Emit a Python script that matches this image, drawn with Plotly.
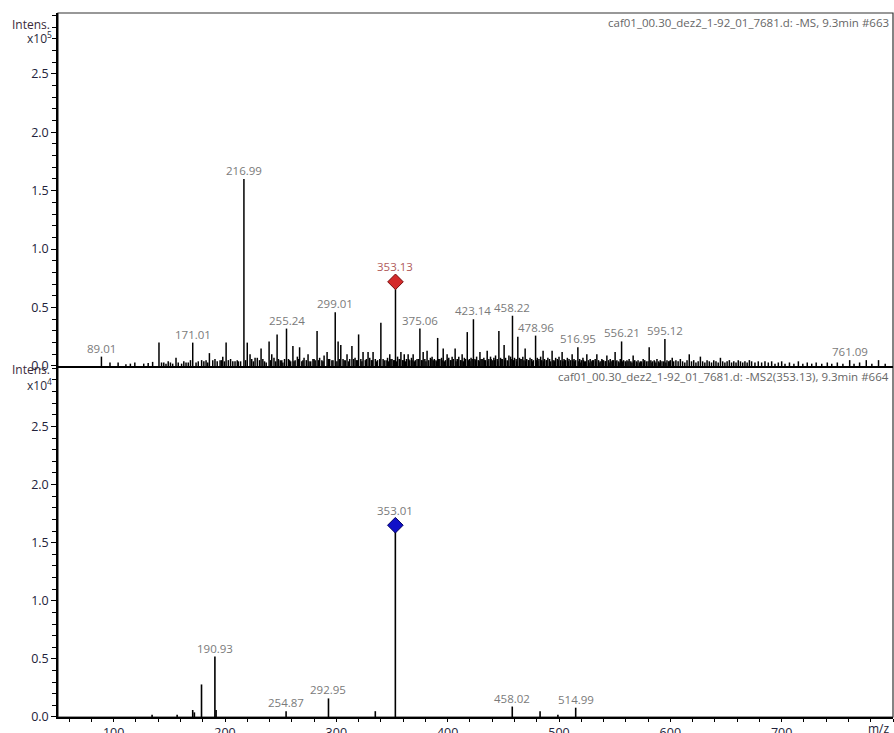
import plotly.graph_objects as go

# ---------------- DATA ----------------
# MS1 spectrum (intensity in units of 1e5)
ms1_mz = [89.01, 96.7, 104, 111, 115, 119, 127, 131, 135, 140.7, 143, 156, 161, 165,
          171.01, 174, 179, 181, 186, 189, 193, 195.6, 198, 201, 203, 209, 212,
          216.99, 220, 222.5, 227, 229, 232.4, 237, 239.6, 242, 246.8, 249.6, 252, 255.24,
          257, 259, 261, 263, 265, 267, 269, 271, 273, 274.6, 277, 279, 281, 282.7, 285, 287,
          289, 291.7, 294, 296, 299.01, 301.6, 304, 306, 308, 309.6, 312, 314, 316.8, 318,
          320, 322, 324, 326, 328.5, 330, 331.5, 333, 335, 337, 340, 342, 344.7, 346, 348,
          350, 351.5, 353.13, 355, 356.5, 358, 359.5, 361, 363, 364.5, 366, 367.5, 369, 371,
          372.5, 375.06, 376.5, 378, 379.5, 381.5, 383, 384.5, 386, 388, 389.5, 391, 393,
          394.5, 396, 398, 399.5, 401, 402.5, 404, 405, 406.7, 408.5, 410, 411.5, 413, 415,
          417.6, 419.5, 421, 423.14, 424.5, 426, 427.5, 429, 431, 432.5, 434, 435.5, 437,
          438.5, 440, 441.5, 443, 444.5, 446, 447.5, 449, 450.7, 452, 453.5, 455, 456.5,
          458.22, 460, 461.5, 463, 464.5, 466, 467.5, 469.6, 471, 472.5, 474, 475.5, 477,
          478.96, 480.5, 482, 483.5, 485.7, 487, 488.5, 490, 491.5, 493.8, 495.5, 497, 498.5,
          500, 501.5, 502.8, 504.5, 506, 507.5, 509, 510.5, 511.8, 513.5, 515, 516.95, 518.5,
          520, 521.5, 523, 525, 526.5, 528, 529.5, 531, 532.5, 534, 535.5, 537, 538.5, 540,
          541.5, 543, 544.5, 546, 547.5, 549, 550.4, 552, 553.5, 555, 556.21, 558, 559.5,
          561, 563, 564.5, 566.6, 568, 569.5, 571, 572.5, 574, 575.6, 577, 578.5, 581, 582.5,
          584, 585.5, 587, 588, 589.5, 591, 592.5, 595.12, 597, 598.5, 600, 601.7, 603, 605,
          607, 609, 611, 613, 615, 617, 619, 621, 623, 625, 627, 629, 631, 633, 635, 637,
          639, 641, 643, 645, 647, 649, 651, 653, 655, 657, 659, 661, 663, 665, 667, 669,
          671, 673, 676, 679, 682, 685, 688, 691, 694, 697, 700, 703, 707, 711, 715, 719,
          723, 727, 731, 736, 741, 745, 750, 755, 761.09, 765, 770, 776, 781, 787, 793]
ms1_int = [0.08, 0.03, 0.03, 0.015, 0.02, 0.03, 0.02, 0.025, 0.035, 0.20, 0.03, 0.07, 0.02, 0.03,
           0.20, 0.03, 0.05, 0.04, 0.11, 0.05, 0.04, 0.05, 0.08, 0.20, 0.05, 0.04, 0.04,
           1.60, 0.20, 0.10, 0.07, 0.07, 0.15, 0.03, 0.21, 0.10, 0.27, 0.05, 0.03, 0.32,
           0.06, 0.04, 0.17, 0.05, 0.08, 0.16, 0.04, 0.07, 0.05, 0.10, 0.04, 0.06, 0.05, 0.30, 0.07, 0.05,
           0.09, 0.12, 0.06, 0.05, 0.46, 0.21, 0.18, 0.06, 0.05, 0.10, 0.06, 0.17, 0.07, 0.05,
           0.27, 0.06, 0.12, 0.05, 0.12, 0.07, 0.05, 0.12, 0.06, 0.05, 0.37, 0.06, 0.05, 0.07, 0.10,
           0.06, 0.05, 0.72, 0.08, 0.06, 0.12, 0.05, 0.10, 0.06, 0.10, 0.05, 0.07, 0.10, 0.05,
           0.06, 0.32, 0.05, 0.12, 0.06, 0.13, 0.05, 0.07, 0.08, 0.06, 0.05, 0.24, 0.06,
           0.07, 0.15, 0.05, 0.10, 0.07, 0.05, 0.08, 0.06, 0.15, 0.06, 0.08, 0.05, 0.10, 0.07,
           0.29, 0.06, 0.07, 0.40, 0.06, 0.08, 0.05, 0.12, 0.06, 0.07, 0.05, 0.13, 0.06,
           0.08, 0.05, 0.07, 0.09, 0.06, 0.30, 0.07, 0.06, 0.18, 0.07, 0.05, 0.09, 0.08,
           0.43, 0.07, 0.06, 0.25, 0.07, 0.06, 0.08, 0.15, 0.06, 0.05, 0.07, 0.06, 0.05,
           0.26, 0.07, 0.06, 0.08, 0.13, 0.06, 0.05, 0.07, 0.06, 0.13, 0.05, 0.07, 0.06,
           0.08, 0.05, 0.12, 0.06, 0.05, 0.07, 0.06, 0.05, 0.10, 0.06, 0.05, 0.16, 0.06,
           0.05, 0.07, 0.04, 0.10, 0.05, 0.06, 0.04, 0.05, 0.06, 0.10, 0.05, 0.04, 0.06, 0.05,
           0.04, 0.09, 0.05, 0.06, 0.04, 0.05, 0.12, 0.05, 0.04, 0.06, 0.21, 0.05, 0.04,
           0.05, 0.06, 0.04, 0.09, 0.05, 0.04, 0.05, 0.03, 0.04, 0.06, 0.05, 0.04, 0.16, 0.05,
           0.04, 0.05, 0.03, 0.06, 0.04, 0.05, 0.04, 0.23, 0.05, 0.04, 0.05, 0.07, 0.04, 0.05,
           0.04, 0.06, 0.04, 0.03, 0.05, 0.10, 0.04, 0.05, 0.03, 0.04, 0.08, 0.04, 0.03, 0.05, 0.04, 0.03,
           0.05, 0.04, 0.03, 0.07, 0.04, 0.03, 0.04, 0.05, 0.03, 0.04, 0.03, 0.05, 0.04, 0.03, 0.04, 0.03,
           0.05, 0.04, 0.03, 0.04, 0.03, 0.04, 0.03, 0.04, 0.02, 0.03, 0.04, 0.02, 0.03, 0.02, 0.04, 0.02,
           0.03, 0.02, 0.03, 0.02, 0.03, 0.02, 0.03, 0.02, 0.05, 0.02, 0.03, 0.05, 0.02, 0.05, 0.02]
# additional low-level peaks (baseline "grass")
ms1_minor_mz = [145, 147, 149, 151, 153, 158, 163, 167, 169, 176, 183, 184.5, 191, 197,
                199.5, 205, 207, 211, 214, 218.5, 224, 225.5, 231, 234, 235.5, 241, 244,
                245.5, 248, 251, 253.5,
                258, 262, 266, 270, 275.5, 280, 284, 288, 292.8, 297, 300.5, 303, 307, 311,
                315.5, 319, 323, 327, 332.3, 336, 339, 343, 347, 349, 352.2, 354, 357, 360,
                362, 365, 368, 370, 374, 377, 380.5, 385, 387, 390, 392, 395, 397, 400, 403,
                407.5, 409, 412, 414, 416, 418.5, 420, 422, 425, 428.3, 430, 433, 436, 439,
                442, 445, 448, 451, 454, 457, 459, 462, 465, 468.5, 470, 473, 476, 479.8, 481,
                484.5, 486, 489, 492.5, 494.6, 496, 499.3, 503.5, 505, 508.3, 512.5, 514,
                517.8, 519, 522, 524, 527, 530, 533, 536, 539, 542, 545, 548, 551, 554, 557,
                560, 562, 565.5, 567, 570, 573, 576, 580, 583.5, 586, 590, 594, 596, 599]
ms1_minor_int = [0.03, 0.02, 0.04, 0.03, 0.02, 0.03, 0.04, 0.03, 0.05, 0.04, 0.05, 0.03, 0.06, 0.05,
                 0.04, 0.06, 0.04, 0.05, 0.04, 0.05, 0.06, 0.04, 0.05, 0.06, 0.04, 0.05, 0.07,
                 0.04, 0.06, 0.05, 0.06,
                 0.05, 0.04, 0.06, 0.05, 0.04, 0.06, 0.05, 0.04, 0.06, 0.05, 0.04, 0.06, 0.05, 0.04,
                 0.06, 0.05, 0.04, 0.06, 0.05, 0.04, 0.06, 0.05, 0.04, 0.06, 0.05, 0.04, 0.06, 0.05,
                 0.04, 0.06, 0.05, 0.04, 0.06, 0.05, 0.04, 0.06, 0.05, 0.04, 0.06, 0.05, 0.04, 0.06, 0.05,
                 0.04, 0.06, 0.05, 0.04, 0.06, 0.05, 0.04, 0.06, 0.05, 0.04, 0.06, 0.05, 0.04, 0.06,
                 0.05, 0.04, 0.06, 0.05, 0.04, 0.06, 0.05, 0.04, 0.06, 0.05, 0.04, 0.05, 0.04, 0.05, 0.04,
                 0.05, 0.04, 0.05, 0.04, 0.05, 0.04, 0.05, 0.04, 0.05, 0.04, 0.05, 0.04,
                 0.04, 0.03, 0.05, 0.04, 0.03, 0.05, 0.04, 0.03, 0.05, 0.04, 0.03, 0.05, 0.04, 0.03, 0.04,
                 0.03, 0.04, 0.03, 0.04, 0.03, 0.04, 0.03, 0.04, 0.03, 0.04, 0.03, 0.04, 0.03, 0.04]
ms1_labels = [89.01, 171.01, 216.99, 255.24, 299.01, 353.13, 375.06, 423.14, 458.22,
              478.96, 516.95, 556.21, 595.12, 761.09]
ms1_precursor = 353.13

# MS2 spectrum of 353.13 (intensity in units of 1e4)
ms2_mz = [134.5, 157, 171, 172.5, 178.9, 190.93, 192, 254.87, 292.95, 335, 353.01,
          458.02, 483, 499, 514.99]
ms2_int = [0.02, 0.02, 0.06, 0.04, 0.28, 0.52, 0.06, 0.05, 0.16, 0.05, 1.65,
           0.09, 0.05, 0.02, 0.08]
ms2_labels = [190.93, 254.87, 292.95, 353.01, 458.02, 514.99]
ms2_parent = 353.01

title_ms1 = "caf01_00.30_dez2_1-92_01_7681.d: -MS, 9.3min #663"
title_ms2 = "caf01_00.30_dez2_1-92_01_7681.d: -MS2(353.13), 9.3min #664"
x_ticks = [100, 200, 300, 400, 500, 600, 700]
y_ticks = [0.0, 0.5, 1.0, 1.5, 2.0, 2.5]

# ---------------- FIGURE ----------------
FONT = "Open Sans"
LABEL_GRAY = "#7a7a7a"

def stems(mz, inten):
    xs, ys = [], []
    for m, v in zip(mz, inten):
        xs += [m, m, None]
        ys += [0, v, None]
    return xs, ys

fig = go.Figure()
x1, y1 = stems(ms1_mz + ms1_minor_mz, ms1_int + ms1_minor_int)
fig.add_trace(go.Scatter(x=x1, y=y1, mode="lines", line=dict(color="black", width=1.5),
                         xaxis="x", yaxis="y", hoverinfo="skip", showlegend=False))
x2, y2 = stems(ms2_mz, ms2_int)
fig.add_trace(go.Scatter(x=x2, y=y2, mode="lines", line=dict(color="black", width=1.6),
                         xaxis="x2", yaxis="y2", hoverinfo="skip", showlegend=False))

p1 = ms1_int[ms1_mz.index(ms1_precursor)]
fig.add_trace(go.Scatter(x=[ms1_precursor], y=[p1], mode="markers",
                         marker=dict(symbol="diamond", size=12, color="#d42a2a",
                                     line=dict(color="#7a1010", width=1)),
                         xaxis="x", yaxis="y", showlegend=False))
p2 = ms2_int[ms2_mz.index(ms2_parent)]
fig.add_trace(go.Scatter(x=[ms2_parent], y=[p2], mode="markers",
                         marker=dict(symbol="diamond", size=12, color="#1010c8",
                                     line=dict(color="#000060", width=1)),
                         xaxis="x2", yaxis="y2", showlegend=False))

annotations = []
for m in ms1_labels:
    v = ms1_int[ms1_mz.index(m)]
    is_prec = (m == ms1_precursor)
    annotations.append(dict(x=m, y=v, xref="x", yref="y", text=f"{m:.2f}", showarrow=False,
                            yanchor="bottom", yshift=(6 if is_prec else -1),
                            font=dict(family=FONT, size=11.5,
                                      color=("#b05a5a" if is_prec else LABEL_GRAY))))
for m in ms2_labels:
    v = ms2_int[ms2_mz.index(m)]
    is_par = (m == ms2_parent)
    annotations.append(dict(x=m, y=v, xref="x2", yref="y2", text=f"{m:.2f}", showarrow=False,
                            yanchor="bottom", yshift=(5 if is_par else -1),
                            font=dict(family=FONT, size=11.5, color=LABEL_GRAY)))

SPLIT = 0.4986
annotations += [
    dict(x=1, y=1, xref="paper", yref="paper", xanchor="right", yanchor="top",
         xshift=-2, yshift=0, text=title_ms1, showarrow=False,
         font=dict(family=FONT, size=11.5, color="#666666")),
    dict(x=1, y=SPLIT, xref="paper", yref="paper", xanchor="right", yanchor="top",
         xshift=-2, yshift=-1, text=title_ms2, showarrow=False,
         font=dict(family=FONT, size=11.5, color="#666666")),
    dict(x=0, y=1, xref="paper", yref="paper", xanchor="right", yanchor="top",
         xshift=-6, yshift=-1, text="Intens.", showarrow=False,
         font=dict(family=FONT, size=12, color="#3a2a3a")),
    dict(x=0, y=1, xref="paper", yref="paper", xanchor="right", yanchor="top",
         xshift=-4, yshift=-14, text="x10<sup>5</sup>", showarrow=False,
         font=dict(family=FONT, size=12, color="#2a2a3a")),
    dict(x=0, y=SPLIT, xref="paper", yref="paper", xanchor="right", yanchor="top",
         xshift=-6, yshift=7, text="Intens.", showarrow=False,
         font=dict(family=FONT, size=12, color="#3a2a3a")),
    dict(x=0, y=SPLIT, xref="paper", yref="paper", xanchor="right", yanchor="top",
         xshift=-4, yshift=-8, text="x10<sup>4</sup>", showarrow=False,
         font=dict(family=FONT, size=12, color="#2a2a3a")),
    dict(x=1, y=0, xref="paper", yref="paper", xanchor="right", yanchor="top",
         xshift=-1, yshift=-1, text="m/z", showarrow=False,
         font=dict(family=FONT, size=12, color="#222233")),
]

yaxis_common = dict(range=[0, 3.02], tickvals=y_ticks, ticktext=[f"{t:.1f}" for t in y_ticks],
                    ticks="outside", ticklen=5, tickwidth=1.2, tickcolor="black",
                    showline=True, linecolor="black", linewidth=1.5, showgrid=False,
                    zeroline=False, automargin=False,
                    tickfont=dict(family=FONT, size=12.5, color="#22223a"),
                    minor=dict(tickvals=[i / 10 for i in range(31)], ticks="outside",
                               ticklen=4, tickcolor="black", tickwidth=1.2, showgrid=False),
                    fixedrange=True)

fig.update_layout(
    width=894, height=733,
    margin=dict(l=58, r=1, t=13, b=16, autoexpand=False),
    paper_bgcolor="white", plot_bgcolor="white",
    xaxis=dict(domain=[0, 1], range=[50, 800], anchor="y", showticklabels=False,
               ticks="", showline=True, linecolor="black", linewidth=1.5,
               showgrid=False, zeroline=False, matches="x2", automargin=False),
    yaxis=dict(domain=[SPLIT, 1], anchor="x", **yaxis_common),
    xaxis2=dict(domain=[0, 1], range=[50, 800], anchor="y2", tickvals=x_ticks,
                ticks="outside", ticklen=3, tickwidth=1.2, tickcolor="black",
                showline=True, linecolor="black", linewidth=1.5, showgrid=False,
                zeroline=False, automargin=False,
                tickfont=dict(family=FONT, size=12.5, color="#22223a"),
                minor=dict(dtick=20, tick0=0, ticks="outside", ticklen=3,
                           tickcolor="black", tickwidth=1.2, showgrid=False)),
    yaxis2=dict(domain=[0, SPLIT], anchor="x2", **yaxis_common),
    annotations=annotations,
    shapes=[dict(type="rect", xref="paper", yref="paper", x0=0, x1=1, y0=0, y1=1,
                 line=dict(color="#333333", width=1.2), layer="below")],
    showlegend=False,
)

fig.write_html("out.html")
